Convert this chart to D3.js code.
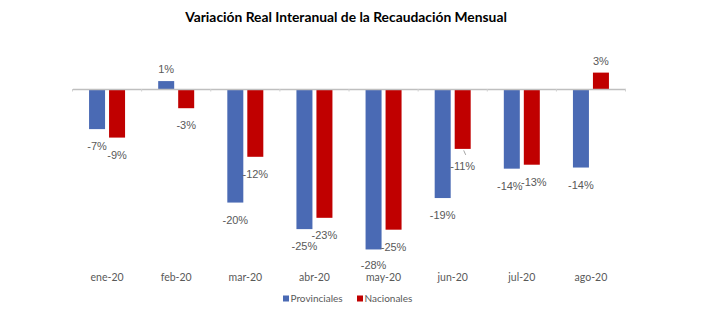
<!DOCTYPE html>
<html>
<head>
<meta charset="utf-8">
<script src="https://cdn.jsdelivr.net/npm/d3@7/dist/d3.min.js"></script>
<style>
  html, body { margin: 0; padding: 0; background: #ffffff; }
  svg { display: block; }
</style>
</head>
<body>
<svg id="chart" width="726" height="332"></svg>
<script>
const title = "Variación Real Interanual de la Recaudación Mensual";
const months = ["ene-20", "feb-20", "mar-20", "abr-20", "may-20", "jun-20", "jul-20", "ago-20"];
const seriesNames = ["Provinciales", "Nacionales"];
const provinciales = [-7.1, 1.4, -20.1, -24.8, -28.4, -19.3, -14.1, -13.9];
const nacionales = [-8.6, -3.4, -12.0, -22.8, -24.9, -10.6, -13.4, 2.9];
const provincialesLabels = ["-7%", "1%", "-20%", "-25%", "-28%", "-19%", "-14%", "-14%"];
const nacionalesLabels = ["-9%", "-3%", "-12%", "-23%", "-25%", "-11%", "-13%", "3%"];
const colors = ["#4a6ab4", "#c00000"];

const svg = d3.select("#chart");

const x0 = d3.scaleBand().domain(months).range([72.5, 625.5]).paddingInner(0).paddingOuter(0);
const groupW = 36;
const x1 = d3.scaleBand().domain(seriesNames).range([0, groupW]).paddingInner(0.2).paddingOuter(0);
const y = d3.scaleLinear().domain([-30, 5]).range([258.5, 60.75]);

const rows = [];
months.forEach((m, i) => {
  rows.push({ m, s: seriesNames[0], v: provinciales[i], label: provincialesLabels[i], c: colors[0], i });
  rows.push({ m, s: seriesNames[1], v: nacionales[i], label: nacionalesLabels[i], c: colors[1], i });
});
const gx = d => x0(d.m) + (x0.bandwidth() - groupW) / 2 + x1(d.s);
const cx = d => gx(d) + x1.bandwidth() / 2;

// Title
const t = svg.append("text")
  .attr("x", 346).attr("y", 21.5)
  .attr("text-anchor", "middle")
  .attr("font-family", "Lato, 'Open Sans', sans-serif")
  .attr("font-weight", "bold")
  .attr("font-size", 13)
  .attr("fill", "#000")
  .text(title);
const tw = t.node().getComputedTextLength();
if (tw > 0) t.attr("font-size", 13 * 322 / tw);

// Bars
svg.append("g").selectAll("rect").data(rows).join("rect")
  .attr("x", gx)
  .attr("width", x1.bandwidth())
  .attr("y", d => y(Math.max(0, d.v)))
  .attr("height", d => Math.abs(y(d.v) - y(0)))
  .attr("fill", d => d.c);

// Axis line with ticks
const axis = d3.axisBottom(x0).tickSize(0).tickFormat("");
const ag = svg.append("g").attr("transform", `translate(0,${y(0)})`).call(axis);
ag.select(".domain").attr("stroke", "#bfbfbf").attr("stroke-width", 1.5);
const bounds = months.map(m => x0(m)).concat([x0(months[months.length - 1]) + x0.bandwidth()]);
ag.selectAll(".bt").data(bounds).join("line")
  .attr("x1", d => d).attr("x2", d => d)
  .attr("y1", 0).attr("y2", 2.5)
  .attr("stroke", "#d0d0d0").attr("stroke-width", 1);

// Label nudges (Excel-style placement where labels crowd)
const nudge = d => {
  if (d.m === "jul-20") return d.s === seriesNames[0] ? -2 : 2;
  return 0;
};
const labelY = d => d.v >= 0 ? y(d.v) - 8 : y(d.v) + (d.m === "may-20" && d.s === seriesNames[0] ? 20 : 21);

// Leader line for jun-20 Nacionales
const jr = rows.find(d => d.m === "jun-20" && d.s === seriesNames[1]);
svg.append("line")
  .attr("x1", cx(jr) + 1).attr("y1", y(jr.v) + 1.5)
  .attr("x2", cx(jr) + 3).attr("y2", y(jr.v) + 6)
  .attr("stroke", "#a6a6a6").attr("stroke-width", 1);

// Data labels
svg.append("g").selectAll("text").data(rows).join("text")
  .attr("x", d => cx(d) + nudge(d))
  .attr("y", labelY)
  .attr("text-anchor", "middle")
  .attr("font-family", "'Liberation Sans', Arial, sans-serif")
  .attr("font-size", 11)
  .attr("fill", "#595959")
  .text(d => d.label);

// Category labels
svg.append("g").selectAll("text").data(months).join("text")
  .attr("x", d => x0(d) + x0.bandwidth() / 2)
  .attr("y", 281)
  .attr("text-anchor", "middle")
  .attr("font-family", "Lato, 'Open Sans', sans-serif")
  .attr("font-size", 10.5)
  .attr("fill", "#595959")
  .text(d => d);

// Legend
const legendX = [283, 357];
const lg = svg.append("g").selectAll("g").data(seriesNames).join("g")
  .attr("transform", (d, i) => `translate(${legendX[i]},295.5)`);
lg.append("rect").attr("width", 6).attr("height", 6).attr("fill", (d, i) => colors[i]);
lg.append("text")
  .attr("x", 7.5).attr("y", 6.5)
  .attr("font-family", "Lato, 'Open Sans', sans-serif")
  .attr("font-size", 10)
  .attr("fill", "#595959")
  .text(d => d);
</script>
</body>
</html>
